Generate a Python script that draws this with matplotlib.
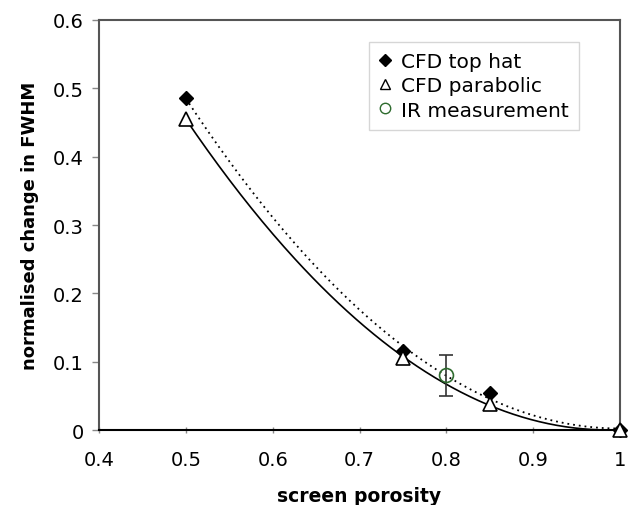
import numpy as np
import matplotlib
matplotlib.use("Agg")
import matplotlib.pyplot as plt
from matplotlib.lines import Line2D

# Screen porosity study: CFD runs and IR measurement
porosity = [0.5, 0.75, 0.85, 1.0]
top_hat = [0.486, 0.116, 0.054, 0.0]
parabolic = [0.455, 0.106, 0.038, 0.0]
ir_x = [0.8]
ir_y = [0.080]
ir_err = [0.030]

xticks = [0.4, 0.5, 0.6, 0.7, 0.8, 0.9, 1]
xticklabels = ["0.4", "0.5", "0.6", "0.7", "0.8", "0.9", "1"]
yticks = [0, 0.1, 0.2, 0.3, 0.4, 0.5, 0.6]
yticklabels = ["0", "0.1", "0.2", "0.3", "0.4", "0.5", "0.6"]

plt.rcParams["font.family"] = ["DejaVu Sans"]

fig = plt.figure(figsize=(6.31, 5.06), dpi=100)
ax = fig.add_axes([0.157, 0.148, 0.8256, 0.8105])

# second-order polynomial trend lines
xs = np.linspace(min(porosity), max(porosity), 200)
c_top = np.polyfit(porosity, top_hat, 2)
c_par = np.polyfit(porosity, parabolic, 2)
ax.plot(xs, np.polyval(c_top, xs), color="black", lw=1.3, ls=(0, (1, 2.2)), zorder=2)
ax.plot(xs, np.polyval(c_par, xs), color="black", lw=1.2, ls="-", zorder=2)

ax.errorbar(ir_x, ir_y, yerr=ir_err, fmt="none", ecolor="#333333", elinewidth=1.2,
            capsize=5, capthick=1.2, zorder=3)
ax.plot(porosity, top_hat, ls="none", marker="D", ms=7, color="black", zorder=4,
        clip_on=False)
ax.plot(porosity, parabolic, ls="none", marker="^", ms=10, mfc="white", mec="black",
        mew=1.2, zorder=5, clip_on=False)
ax.plot(ir_x, ir_y, ls="none", marker="o", ms=10, mfc="none", mec="#2e6b2e",
        mew=1.2, zorder=6)

ax.set_xlim(0.4, 1.0)
ax.set_ylim(0, 0.6)
ax.set_xticks(xticks)
ax.set_xticklabels(xticklabels)
ax.set_yticks(yticks)
ax.set_yticklabels(yticklabels)
ax.tick_params(axis="both", labelsize=14, color="#888888", length=5, width=1)
ax.tick_params(axis="x", direction="inout", pad=12)
ax.tick_params(axis="y", direction="out", pad=6)

for side in ["left", "top", "right"]:
    ax.spines[side].set_color("#555555")
    ax.spines[side].set_linewidth(1.5)
ax.spines["bottom"].set_color("black")
ax.spines["bottom"].set_linewidth(1.5)

ax.set_xlabel("screen porosity", fontsize=13.5, fontweight="bold", labelpad=12)
ax.set_ylabel("normalised change in FWHM", fontsize=13, fontweight="bold", labelpad=10)

handles = [
    Line2D([], [], ls="none", marker="D", ms=6.5, color="black"),
    Line2D([], [], ls="none", marker="^", ms=7.5, mfc="white", mec="black", mew=1.0),
    Line2D([], [], ls="none", marker="o", ms=7.5, mfc="none", mec="#2e6b2e", mew=1.0),
]
leg = ax.legend(handles, ["CFD top hat", "CFD parabolic", "IR measurement"],
                loc="upper right", bbox_to_anchor=(0.94, 0.97), fontsize=14.5,
                frameon=True, fancybox=False, edgecolor="#cccccc",
                handlelength=0.6, handletextpad=0.5, borderpad=0.5,
                labelspacing=0.25)
leg.get_frame().set_linewidth(1.0)

fig.savefig("out.png", dpi=100, facecolor="white")
